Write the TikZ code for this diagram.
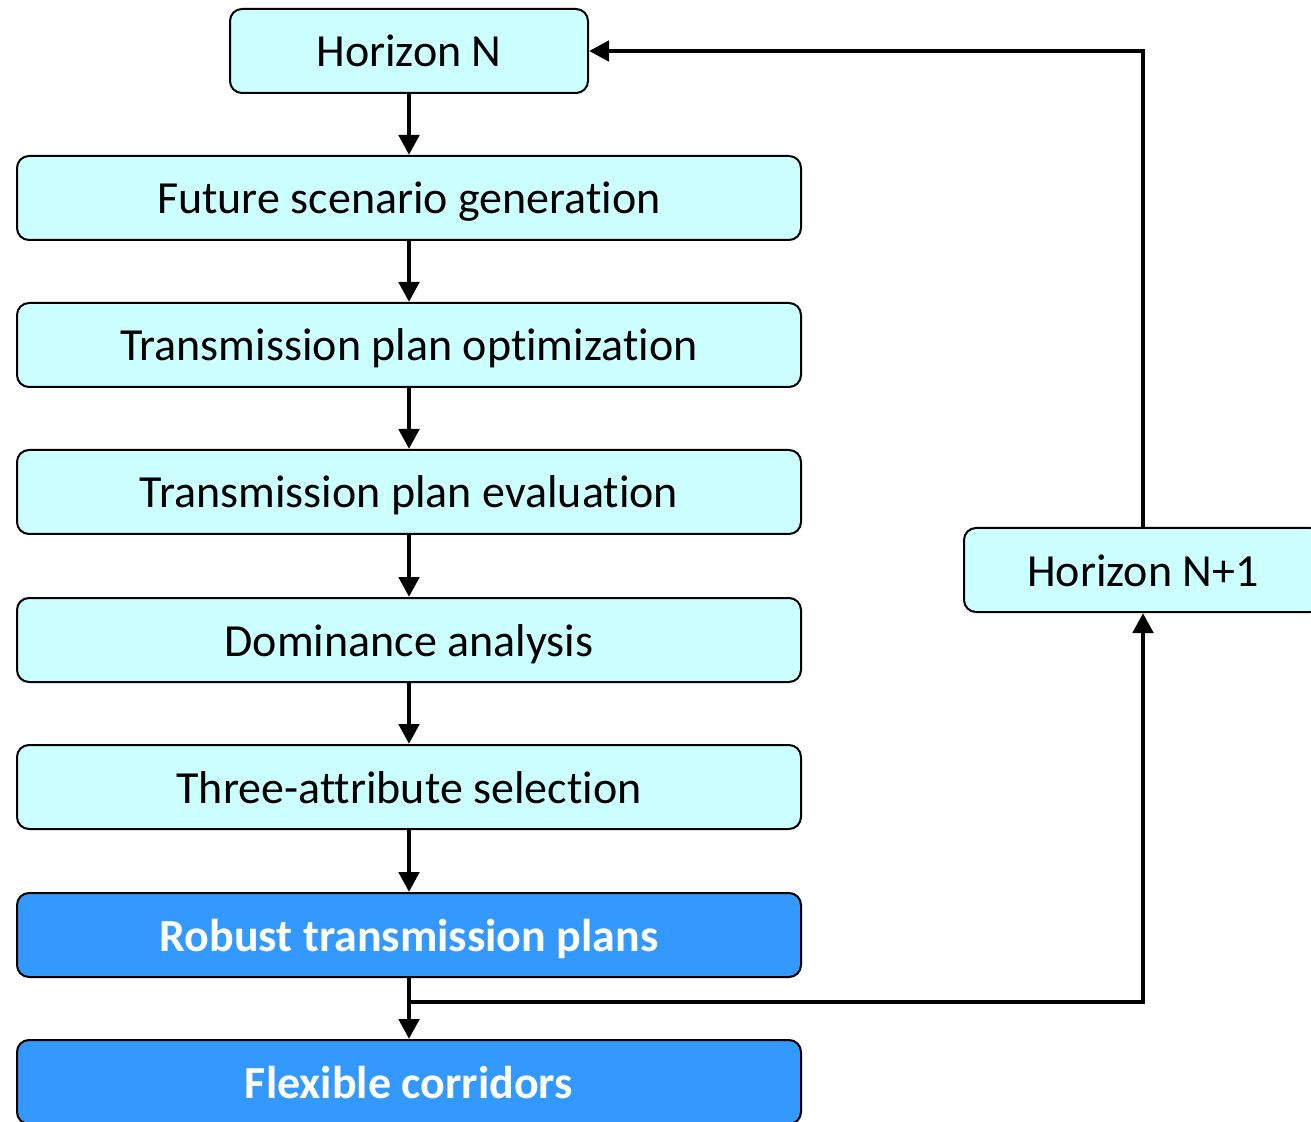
\documentclass[tikz,border=0pt]{standalone}
\usepackage{fontspec}
\setmainfont{Carlito}[Ligatures={NoCommon}]
\usepackage{xcolor}
\usetikzlibrary{arrows.meta}
\definecolor{paleblue}{HTML}{CCFFFF}
\definecolor{darkblue}{HTML}{3399FF}

\begin{document}
\begin{tikzpicture}[x=0.5pt, y=-0.5pt]
	% Define style for nodes
	\tikzstyle{every node}=[rectangle, rounded corners=6pt, draw=black, line width=1pt, fill=paleblue, minimum height=42pt, inner sep=0pt, text height=16pt, text depth=0pt, font=\fontsize{23}{28}\selectfont]
	\tikzstyle{wide}=[minimum width=392pt]
	\tikzstyle{short}=[minimum width=179pt]
	\tikzstyle{result}=[fill=darkblue, text=white, font=\fontsize{23}{28}\selectfont\bfseries]
	\tikzstyle{arr}=[line width=2.4pt, -{Triangle[width=10pt,length=10pt]}]
	
	\useasboundingbox (0,0) rectangle (1311,1122);
	
	\node[short] (hn) at (409,51) {Horizon N};
	\node[wide] (fsg) at (409,198) {Future scenario generation};
	\node[wide] (tpo) at (409,345) {Transmission plan optimization};
	\node[wide] (tpe) at (409,492) {Transmission plan evaluation};
	\node[wide] (dom) at (409,640) {Dominance analysis};
	\node[wide] (tas) at (409,787) {Three-attribute selection};
	\node[wide, result] (rtp) at (409,935) {Robust transmission plans};
	\node[wide, result] (flx) at (409,1082) {Flexible corridors};
	
	\node[short] (hn1) at (1143,570) {Horizon N+1};
	
	\coordinate (split) at (409,1002);
	
	\draw[arr] (hn) -- (fsg);
	\draw[arr] (fsg) -- (tpo);
	\draw[arr] (tpo) -- (tpe);
	\draw[arr] (tpe) -- (dom);
	\draw[arr] (dom) -- (tas);
	\draw[arr] (tas) -- (rtp);
	\draw[arr] (rtp) -- (flx);
	\draw[arr] (split) -| (hn1.south);
	\draw[arr] (hn1.north) |- (hn.east);
	
\end{tikzpicture}
\end{document}
